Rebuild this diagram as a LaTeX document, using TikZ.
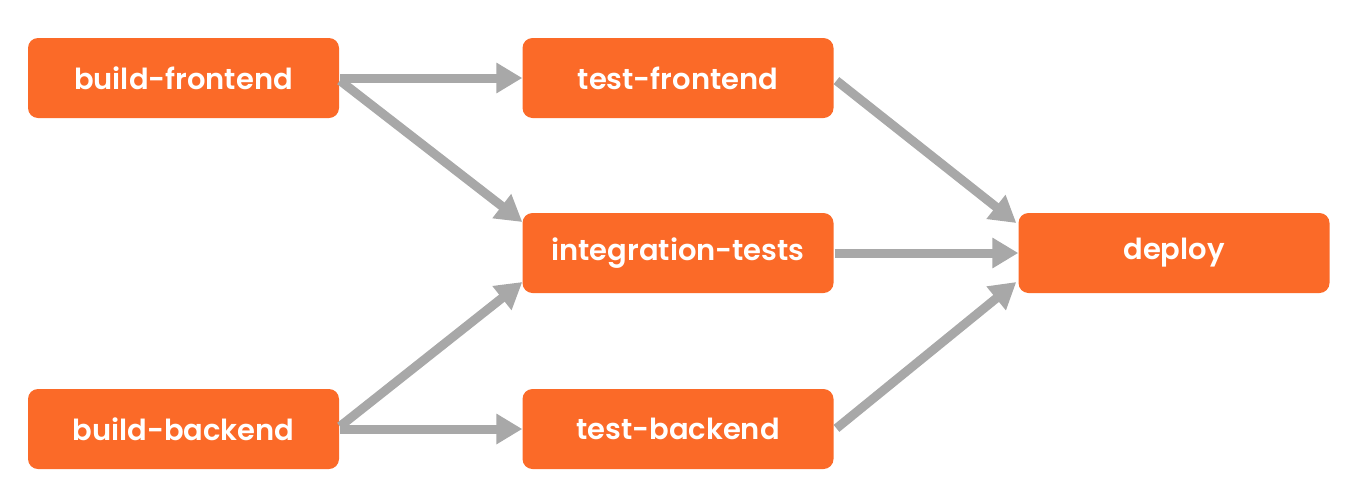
\documentclass[tikz,border=0pt]{standalone}
\usepackage{fontspec}
\setmainfont{Poppins}[UprightFont={* SemiBold}]
\usetikzlibrary{arrows.meta}
\definecolor{jobor}{HTML}{FB6A28}
\definecolor{arrgray}{HTML}{A8A8A8}
\tikzset{
  job/.style={rectangle, rounded corners=10pt, fill=jobor, text=white,
    minimum width=311pt, minimum height=80pt, inner sep=0pt, font=\fontsize{29}{34}\selectfont},
  flow/.style={draw=arrgray, line width=9pt, -{Triangle[length=26pt,width=29pt]}, shorten <=1pt}
}
\begin{document}
\begin{tikzpicture}[x=1pt,y=-1pt]
\useasboundingbox (0,0) rectangle (1353,496);
\node[job] (bf) at (183.5,78) {build-frontend};
\node[job] (tf) at (678,78) {test-frontend};
\node[job] (it) at (678,253) {integration-tests};
\node[job] (dp) at (1174,253) {deploy};
\node[job] (bb) at (183.5,429) {build-backend};
\node[job] (tb) at (678,429) {test-backend};
\draw[flow] (bf.east) -- (tf.west);
\draw[flow] ([yshift=-2pt]bf.east) -- ([yshift=31pt]it.west);
\draw[flow] (bb.east) -- (tb.west);
\draw[flow] ([yshift=2pt]bb.east) -- ([yshift=-29pt]it.west);
\draw[flow] ([xshift=2pt,yshift=-2pt]tf.east) -- ([xshift=-2pt,yshift=30pt]dp.west);
\draw[flow] (it.east) -- (dp.west);
\draw[flow] ([xshift=2pt]tb.east) -- ([xshift=-2pt,yshift=-29pt]dp.west);
\end{tikzpicture}
\end{document}
